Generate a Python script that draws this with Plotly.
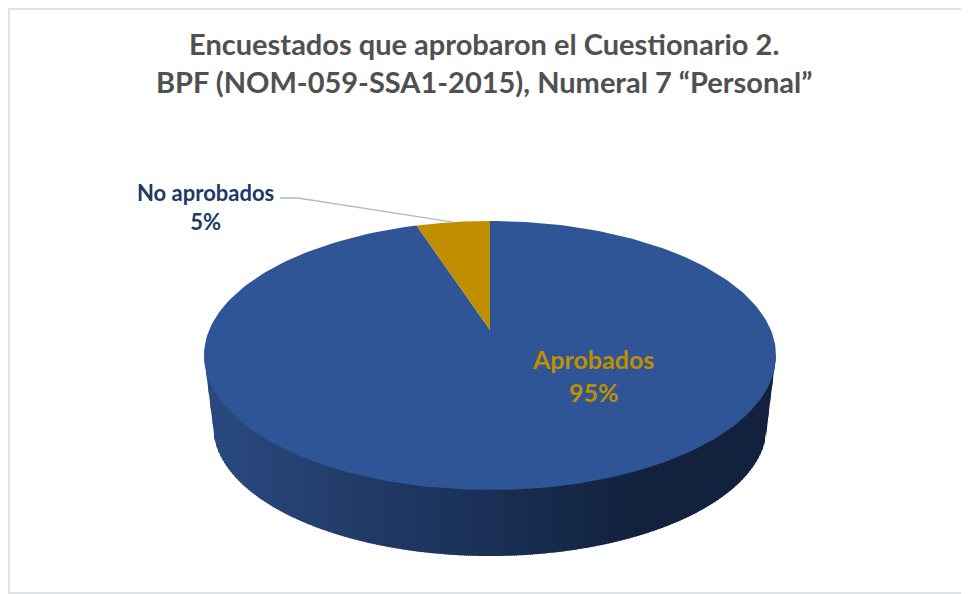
import numpy as np
import plotly.graph_objects as go

TITLE = "Encuestados que aprobaron el Cuestionario 2.<br>BPF (NOM-059-SSA1-2015), Numeral 7 “Personal”"
LABELS = ["Aprobados", "No aprobados"]
VALUES = [95, 5]
SLICE_COLORS = ["#2f5597", "#bf8f00"]
TEXT_COLORS = ["#bf8f00", "#203864"]

# the page keeps an 8px body margin, so the axes start at 8 to stay in page pixels
PAGE_WIDTH, PAGE_HEIGHT = 969, 594
BODY_MARGIN = 8
FONT = "Lato, Carlito, sans-serif"

# pie geometry in page pixels
CX = 490
TOP_CY, TOP_RX, TOP_RY = 355.5, 286, 134.5
BOTTOM_CY, BOTTOM_RX, BOTTOM_RY = 426, 277, 130
APEX_Y = 330

# wall shading, left to right
WALL_LEFT = np.array([42, 74, 128])
WALL_DARK = np.array([18, 34, 62])
WALL_DARK_X = 640


def project(angles):
    # angles clockwise from 12 o'clock on the tilted disc, with perspective
    shift = TOP_CY - APEX_Y
    k = shift / TOP_RY
    depth = 1 + k * np.cos(angles)
    x = CX + TOP_RX * np.sqrt(1 - k**2) * np.sin(angles) / depth
    y = TOP_CY - (TOP_RY * np.cos(angles) + shift) / depth
    return x, y


def wall_bottom(x):
    # lower outline of the wall; the sides run straight in from the top face's tips
    offset = abs(x - CX)
    if offset <= BOTTOM_RX:
        return BOTTOM_CY + BOTTOM_RY * np.sqrt(1 - (offset / BOTTOM_RX) ** 2)
    return TOP_CY + (BOTTOM_CY - TOP_CY) * (TOP_RX - offset) / (TOP_RX - BOTTOM_RX)


fig = go.Figure()

# side wall: vertical strips, the top face covers their upper ends
left_edge = CX - TOP_RX
for start in np.arange(left_edge, CX + TOP_RX, 2.0):
    end = min(start + 3.0, CX + TOP_RX)
    share = min(1.0, (start - left_edge) / (WALL_DARK_X - left_edge))
    r, g, b = (WALL_LEFT + (WALL_DARK - WALL_LEFT) * share).astype(int)
    fig.add_trace(
        go.Scatter(
            x=[start, end, end, start],
            y=[TOP_CY, TOP_CY, wall_bottom(end), wall_bottom(start)],
            mode="lines",
            fill="toself",
            fillcolor=f"rgb({r},{g},{b})",
            line=dict(width=0),
            hoverinfo="skip",
            showlegend=False,
        )
    )

# top face, clockwise from 12 o'clock in value order
cumulative = 0
label_points = {}
for label, value, color in zip(LABELS, VALUES, SLICE_COLORS):
    share_from = cumulative / sum(VALUES)
    cumulative += value
    share_to = cumulative / sum(VALUES)
    angles = 2 * np.pi * np.linspace(share_from, share_to, 240)
    rim_x, rim_y = project(angles)
    fig.add_trace(
        go.Scatter(
            x=np.concatenate([[CX], rim_x, [CX]]),
            y=np.concatenate([[APEX_Y], rim_y, [APEX_Y]]),
            mode="lines",
            fill="toself",
            fillcolor=color,
            line=dict(width=0),
            name=label,
            text=f"{label}: {value}%",
            hoverinfo="text",
            showlegend=False,
        )
    )
    middle_x, middle_y = project(np.array([np.pi * (share_from + share_to)]))
    label_points[label] = (middle_x[0], middle_y[0])

# leader line for the small slice
end_x, end_y = label_points["No aprobados"]
fig.add_trace(
    go.Scatter(
        x=[280, 298, end_x],
        y=[198, 198, end_y],
        mode="lines",
        line=dict(color="#aebccb", width=1.3),
        hoverinfo="skip",
        showlegend=False,
    )
)

fig.add_annotation(
    x=593, y=375, text=f"<b>{LABELS[0]}<br>{VALUES[0]}%</b>", showarrow=False,
    font=dict(family=FONT, size=25, color=TEXT_COLORS[0]),
)
fig.add_annotation(
    x=205.5, y=207, text=f"<b>{LABELS[1]}<br>{VALUES[1]}%</b>", showarrow=False,
    font=dict(family=FONT, size=22, color=TEXT_COLORS[1]),
)

# chart frame
fig.add_shape(
    type="rect", x0=9, y0=9, x1=963, y1=593,
    line=dict(color="#dfe3e8", width=2), fillcolor="rgba(0,0,0,0)", layer="below",
)

fig.update_layout(
    width=PAGE_WIDTH - BODY_MARGIN,
    height=PAGE_HEIGHT - BODY_MARGIN,
    margin=dict(l=0, r=0, t=0, b=0),
    paper_bgcolor="white",
    plot_bgcolor="white",
    title=dict(
        text=f"<b>{TITLE}</b>",
        x=0.4955,
        xanchor="center",
        y=0.919,
        yanchor="middle",
        font=dict(family=FONT, size=29, color="#505050"),
    ),
    showlegend=False,
)
fig.update_xaxes(range=[BODY_MARGIN, PAGE_WIDTH], visible=False, fixedrange=True)
fig.update_yaxes(range=[PAGE_HEIGHT, BODY_MARGIN], visible=False, fixedrange=True)

fig.write_html("out.html")
